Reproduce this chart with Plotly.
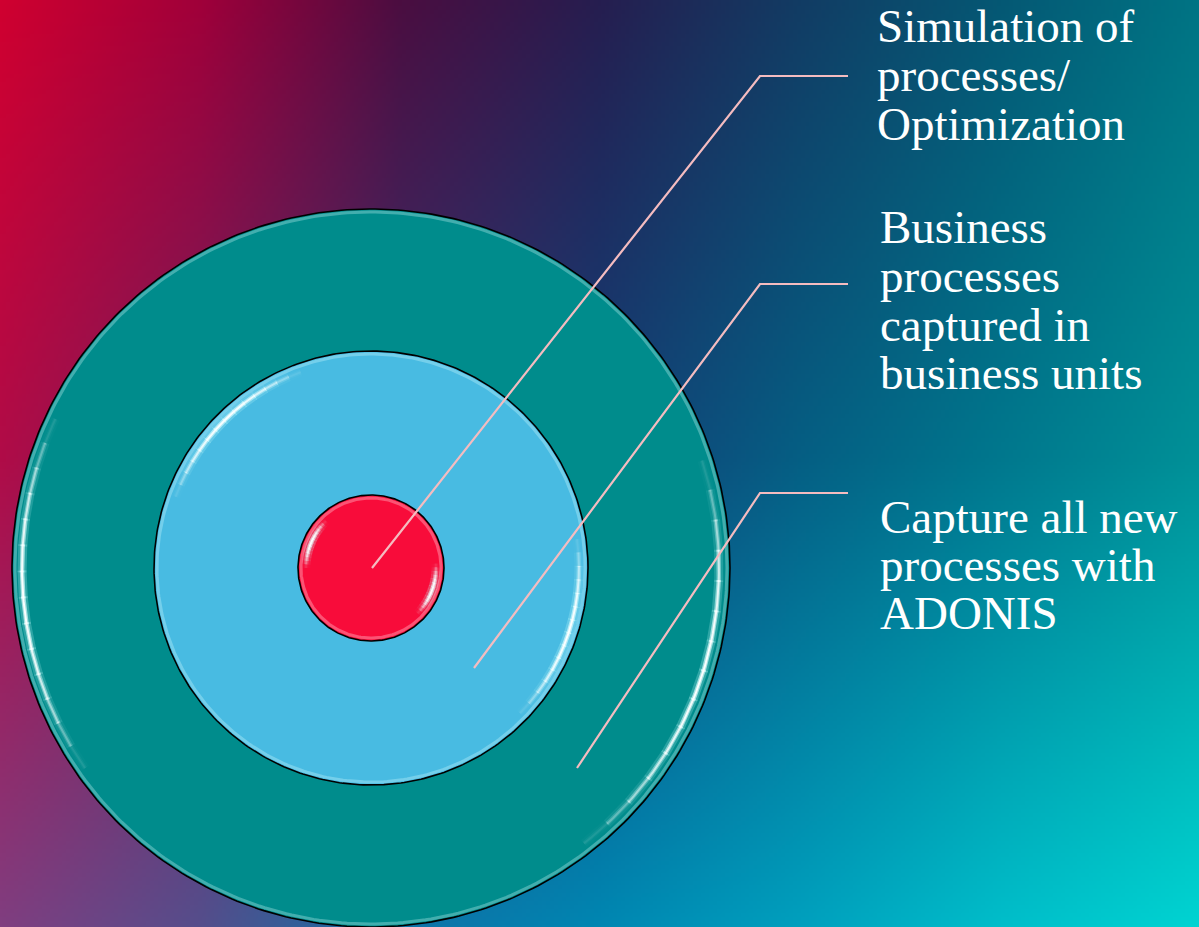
import base64
import struct
import zlib

import numpy as np
import plotly.graph_objects as go

W, H = 1199, 927

# ---------------- data ----------------
ring_names = ["Capture all new processes with ADONIS",
              "Business processes captured in business units",
              "Simulation of processes/Optimization"]
ring_radius = [359, 217, 73]
ring_colors = ["#008C8C", "#48BBE2", "#F80C3A"]
ring_center = [371, 568]

leader_start_x = [372, 474, 577]
leader_start_y = [568, 668, 768]
leader_elbow_x = [760, 760, 760]
leader_elbow_y = [76, 284, 493]
leader_end_x = [848, 848, 848]

label_lines = [["Simulation of", "processes/", "Optimization"],
               ["Business", "processes", "captured in", "business units"],
               ["Capture all new", "processes with", "ADONIS"]]
label_baselines = [[41, 90, 139], [242, 291, 340, 388], [532, 580, 628]]
label_x = [875, 878, 878]

# background gradient control colours
grad_x = [0, 200, 400, 600, 800, 1000, 1199]
grad_y = [0, 460, 927]
grad_rgb = [
    [(208, 0, 48), (160, 0, 58), (75, 14, 65), (38, 30, 80), (18, 60, 100), (5, 88, 116), (0, 116, 132)],
    [(176, 12, 72), (120, 30, 90), (60, 50, 110), (20, 65, 120), (5, 95, 132), (0, 120, 142), (0, 145, 152)],
    [(128, 62, 128), (85, 78, 140), (15, 115, 168), (0, 135, 178), (0, 160, 190), (0, 190, 202), (0, 212, 210)],
]


# ---------------- background image ----------------
def gradient_png(w, h):
    xs = np.linspace(0, W, w)
    ys = np.linspace(0, H, h)
    ctrl = np.array(grad_rgb, dtype=float)  # (rows, cols, 3)
    rows = np.zeros((len(grad_y), w, 3))
    for r in range(len(grad_y)):
        for c in range(3):
            rows[r, :, c] = np.interp(xs, grad_x, ctrl[r, :, c])
    img = np.zeros((h, w, 3))
    for i in range(w):
        for c in range(3):
            img[:, i, c] = np.interp(ys, grad_y, rows[:, i, c])
    img = np.clip(img, 0, 255).astype(np.uint8)
    raw = b"".join(b"\x00" + img[j].tobytes() for j in range(h))

    def chunk(tag, data):
        c = struct.pack(">I", len(data)) + tag + data
        return c + struct.pack(">I", zlib.crc32(tag + data) & 0xffffffff)

    png = b"\x89PNG\r\n\x1a\n"
    png += chunk(b"IHDR", struct.pack(">IIBBBBB", w, h, 8, 2, 0, 0, 0))
    png += chunk(b"IDAT", zlib.compress(raw, 9))
    png += chunk(b"IEND", b"")
    return "data:image/png;base64," + base64.b64encode(png).decode()


bg_src = gradient_png(300, 232)

fig = go.Figure()

cx, cy = ring_center


def arc(r, a0, a1, n=120):
    t = np.radians(np.linspace(a0, a1, n))
    return cx + r * np.cos(t), cy + r * np.sin(t)


# ---------------- rings ----------------
for name, r, col in zip(ring_names, ring_radius, ring_colors):
    x, y = arc(r, 0, 360, 400)
    fig.add_trace(go.Scatter(x=x, y=y, mode="lines", fill="toself", fillcolor=col,
                             line=dict(color="black", width=1.6), name=name,
                             hoverinfo="skip"))
    # soft inner rim glow
    rim = "rgba(220,255,255,0.30)" if col != "#F80C3A" else "rgba(255,190,205,0.40)"
    x, y = arc(r - 3, 0, 360, 400)
    fig.add_trace(go.Scatter(x=x, y=y, mode="lines", line=dict(color=rim, width=3),
                             hoverinfo="skip"))

# glossy highlights (radius, start angle, end angle), tapered at the ends
highlights = [
    (ring_radius[0] - 10, 145, 205), (ring_radius[0] - 11, -18, 52),
    (ring_radius[1] - 9, 200, 250), (ring_radius[1] - 9, -8, 44),
    (ring_radius[2] - 8, 180, 226), (ring_radius[2] - 8, -4, 44),
]
layers = [(9, "200,255,255", 0.25), (4.5, "225,255,255", 0.65), (2, "255,255,255", 0.95)]
nseg = 14
for rr, a0, a1 in highlights:
    edges = np.linspace(a0, a1, nseg + 1)
    for k in range(nseg):
        mid = (k + 0.5) / nseg
        fade = np.sin(np.pi * mid) ** 1.2
        for w, rgb, alpha in layers:
            x, y = arc(rr, edges[k], edges[k + 1] + 0.3, 12)
            fig.add_trace(go.Scatter(x=x, y=y, mode="lines",
                                     line=dict(color=f"rgba({rgb},{alpha * fade:.3f})", width=w),
                                     hoverinfo="skip"))

# ---------------- leader lines ----------------
for i in range(3):
    fig.add_trace(go.Scatter(
        x=[leader_start_x[i], leader_elbow_x[i], leader_end_x[i]],
        y=[leader_start_y[i], leader_elbow_y[i], leader_elbow_y[i]],
        mode="lines", line=dict(color="#F4BCC0", width=2.2), hoverinfo="skip"))

# ---------------- labels ----------------
annotations = []
for lines, bases, lx in zip(label_lines, label_baselines, label_x):
    for txt, b in zip(lines, bases):
        annotations.append(dict(
            x=lx, y=b - 15, xref="x", yref="y", text=txt, showarrow=False,
            xanchor="left", yanchor="middle",
            font=dict(family="Liberation Serif, Times New Roman, serif", size=47, color="white")))

fig.update_layout(
    width=W, height=H,
    margin=dict(l=0, r=0, t=0, b=0),
    paper_bgcolor="#1a2a5a",
    plot_bgcolor="rgba(0,0,0,0)",
    showlegend=False,
    hovermode=False,
    xaxis=dict(range=[0, W], visible=False, fixedrange=True),
    yaxis=dict(range=[H, 0], visible=False, fixedrange=True),
    annotations=annotations,
    images=[dict(source=bg_src, xref="paper", yref="paper", x=0, y=1,
                 sizex=1, sizey=1, sizing="stretch", xanchor="left", yanchor="top",
                 layer="below")],
)

fig.write_html("out.html", config={"displayModeBar": False},
               post_script="document.body.style.margin='0px';document.body.style.overflow='hidden';")
